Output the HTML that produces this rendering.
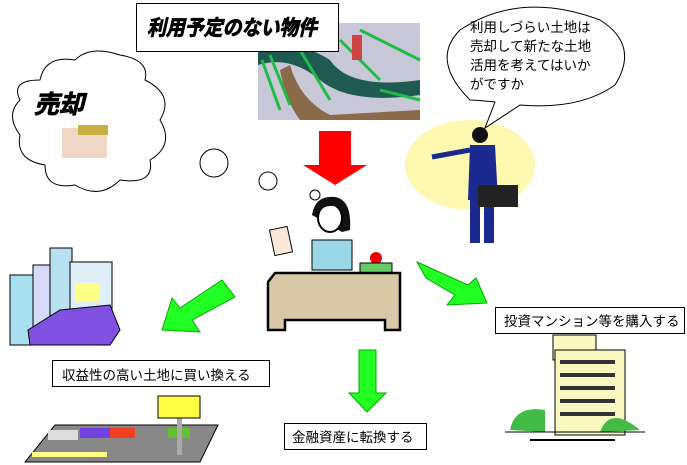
<!DOCTYPE html>
<html><head><meta charset="utf-8"><style>
body{margin:0;width:687px;height:465px;background:#fff;overflow:hidden;font-family:"Liberation Sans","Noto Sans CJK JP",sans-serif}
</style></head><body>
<svg width="687" height="465" viewBox="0 0 687 465" xmlns="http://www.w3.org/2000/svg" style="position:absolute;left:0;top:0">
<!-- rice field -->
<rect x="258" y="23" width="162" height="97" fill="#c8c8d8"/>
<path d="M258 50 Q300 40 330 60 Q350 90 420 80 L420 95 Q350 105 320 80 Q290 55 258 65Z" fill="#1e5a50"/>
<path d="M290 65 Q300 100 330 115 L420 110 L420 120 L300 120 Q285 100 280 70Z" fill="#8a6a48"/>
<path d="M262 60 L280 110 M300 50 L330 100 M340 40 L380 80 M360 30 L420 60 M270 55 L290 105 M380 90 L420 100" stroke="#22bb44" stroke-width="3"/>
<rect x="352" y="35" width="10" height="25" fill="#c44"/>
<!-- title box -->
<rect x="136.5" y="3.5" width="202" height="48" fill="#fff" stroke="#000"/>
<text x="147" y="35" font-size="21" font-weight="bold" font-style="italic" stroke="#000" stroke-width="0.8" textLength="170" lengthAdjust="spacingAndGlyphs">利用予定のない物件</text>
<!-- cloud -->
<path d="M40 80 Q45 55 75 60 Q90 45 120 55 Q150 60 145 80 Q175 95 160 120 Q175 145 150 160 Q155 185 120 180 Q100 200 75 185 Q45 190 45 165 Q15 160 20 135 Q5 115 20 100 Q10 80 40 80Z" fill="#fff" stroke="#000"/>
<text x="34" y="113" font-size="25" font-weight="bold" font-style="italic" stroke="#000" stroke-width="0.8">売却</text>
<rect x="62" y="128" width="45" height="30" fill="#f0d8c8"/>
<rect x="78" y="125" width="30" height="10" fill="#c8b040"/>
<circle cx="214" cy="163" r="14" fill="#fff" stroke="#000"/>
<circle cx="268" cy="181" r="9" fill="#fff" stroke="#000"/>
<circle cx="315" cy="195" r="5" fill="#fff" stroke="#000"/>
<!-- red arrow -->
<polygon points="319,131 351,131 351,165 367,165 335,185 303,165 319,165" fill="#f00"/>
<!-- speech bubble -->
<ellipse cx="470" cy="165" rx="65" ry="45" fill="#fff8b0"/>
<path d="M470 100 Q430 60 460 30 Q520 -10 600 20 Q640 45 615 85 Q580 110 520 105 L485 128 L495 102 Q475 100 470 100Z" fill="#fff" stroke="#000"/>
<g font-size="13.5">
<text x="470" y="32">利用しづらい土地は</text>
<text x="470" y="51">売却して新たな土地</text>
<text x="470" y="70">活用を考えてはいか</text>
<text x="470" y="89">がですか</text>
</g>
<!-- businessman -->
<circle cx="480" cy="135" r="8" fill="#111"/>
<polygon points="470,145 495,145 498,200 468,200" fill="#1a2a90"/>
<rect x="470" y="198" width="10" height="45" fill="#1a2a90"/><rect x="484" y="198" width="10" height="45" fill="#1a2a90"/>
<rect x="478" y="185" width="40" height="22" fill="#222"/>
<line x1="470" y1="150" x2="432" y2="157" stroke="#1a2a90" stroke-width="5"/>
<!-- woman & desk -->
<path d="M312 215 Q315 195 335 197 Q352 200 350 230 L342 232 Z" fill="#111"/>
<ellipse cx="330" cy="218" rx="12" ry="14" fill="#fff" stroke="#000" stroke-width="2"/>
<path d="M318 210 Q325 200 340 205" stroke="#111" stroke-width="5" fill="none"/>
<rect x="312" y="240" width="40" height="30" fill="#9ad8e8" stroke="#000"/>
<rect x="272" y="228" width="18" height="26" fill="#fce8d8" stroke="#000" transform="rotate(-12 281 241)"/>
<circle cx="376" cy="258" r="6" fill="#e00"/>
<rect x="360" y="263" width="32" height="12" fill="#6c6" stroke="#000"/>
<path d="M268 282 L275 273 L400 273 L400 330 L385 330 L385 320 L285 320 L285 330 L268 330Z" fill="#d8c8a8" stroke="#000" stroke-width="2.5"/>
<!-- green arrows -->
<polygon points="222,280 235,297 192,320 200,332 162,330 172,298 180,308" fill="#2f2" stroke="#0a0"/>
<polygon points="417,262 426,278 455,295 447,305 487,303 476,278 468,285" fill="#2f2" stroke="#0a0"/>
<polygon points="359,350 376,350 376,393 386,393 367,412 349,393 359,393" fill="#2f2" stroke="#0a0"/>
<!-- city -->
<rect x="10" y="275" width="25" height="70" fill="#a8e0f0" stroke="#000"/>
<rect x="33" y="265" width="28" height="80" fill="#d8d8f8" stroke="#000"/>
<rect x="50" y="248" width="22" height="95" fill="#b8e0f0" stroke="#000"/>
<rect x="70" y="262" width="42" height="78" fill="#e0f0f8" stroke="#000"/>
<polygon points="28,330 60,310 110,305 120,330 110,345 30,345" fill="#8050e0" stroke="#000"/>
<rect x="75" y="283" width="25" height="18" fill="#ff8"/>
<!-- labels -->
<g font-size="13.5" fill="#000">
<rect x="495.5" y="307.5" width="189" height="26" fill="#fff" stroke="#000"/>
<text x="504" y="326">投資マンション等を購入する</text>
<rect x="52.5" y="360.5" width="217" height="26" fill="#fff" stroke="#000"/>
<text x="62" y="380">収益性の高い土地に買い換える</text>
<rect x="284.5" y="423.5" width="142" height="26" fill="#fff" stroke="#000"/>
<text x="292" y="442">金融資産に転換する</text>
</g>
<!-- parking -->
<polygon points="55,425 218,425 200,462 25,462" fill="#888" stroke="#000"/>
<rect x="48" y="430" width="30" height="10" fill="#ddd"/>
<rect x="80" y="428" width="30" height="10" fill="#7040e0"/>
<rect x="110" y="428" width="25" height="10" fill="#f04020"/>
<rect x="168" y="428" width="22" height="10" fill="#60c030"/>
<rect x="177" y="410" width="5" height="45" fill="#aaa"/>
<rect x="158" y="396" width="42" height="22" fill="#ff4" stroke="#000"/>
<rect x="32" y="452" width="75" height="5" fill="#ff8"/>
<!-- building -->
<rect x="553" y="335" width="43" height="25" fill="#f8f8c0" stroke="#000"/>
<rect x="555" y="350" width="70" height="85" fill="#f8f8c0" stroke="#000"/>
<g fill="#333"><rect x="560" y="360" width="55" height="4"/><rect x="560" y="373" width="55" height="4"/><rect x="560" y="386" width="55" height="4"/><rect x="560" y="399" width="55" height="4"/><rect x="560" y="412" width="55" height="4"/></g>
<path d="M510 430 Q515 405 545 410 L545 432Z" fill="#4b4"/>
<path d="M600 432 Q610 405 640 430Z" fill="#4b4"/>
<line x1="505" y1="432" x2="645" y2="432" stroke="#000"/>
<line x1="530" y1="440" x2="615" y2="440" stroke="#000" stroke-width="2"/>
</svg>
</body></html>
